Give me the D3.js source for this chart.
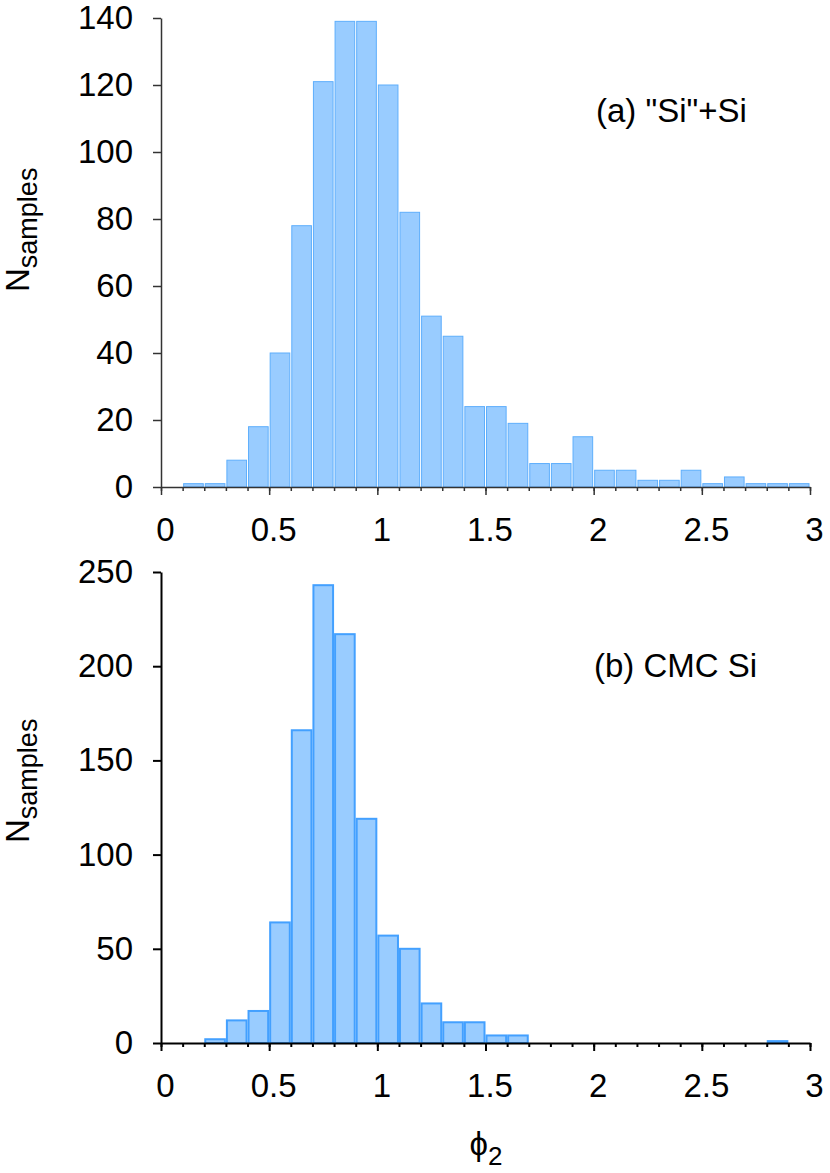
<!DOCTYPE html>
<html><head><meta charset="utf-8">
<script src="https://cdn.jsdelivr.net/npm/d3@7/dist/d3.min.js"></script>
<style>body{margin:0;background:#fff} svg{display:block}</style>
</head><body>
<script>
// ---- data ----
const binWidth = 0.1;
const binsA = [0.1,0.2,0.3,0.4,0.5,0.6,0.7,0.8,0.9,1.0,1.1,1.2,1.3,1.4,1.5,1.6,1.7,1.8,1.9,2.0,2.1,2.2,2.3,2.4,2.5,2.6,2.7,2.8,2.9];
const countsA = [1,1,8,18,40,78,121,139,139,120,82,51,45,24,24,19,7,7,15,5,5,2,2,5,1,3,1,1,1];
const binsB = [0.2,0.3,0.4,0.5,0.6,0.7,0.8,0.9,1.0,1.1,1.2,1.3,1.4,1.5,1.6,2.8];
const countsB = [2,12,17,64,166,243,217,119,57,50,21,11,11,4,4,1];
const yTicksA = [0,20,40,60,80,100,120,140];
const yTicksB = [0,50,100,150,200,250];
const xMajor = [0,0.5,1,1.5,2,2.5,3];
const xMinor = [0,0.1,0.2,0.3,0.4,0.5,0.6,0.7,0.8,0.9,1.0,1.1,1.2,1.3,1.4,1.5,1.6,1.7,1.8,1.9,2.0,2.1,2.2,2.3,2.4,2.5,2.6,2.7,2.8,2.9,3.0];
const labelA = '(a) "Si"+Si';
const labelB = '(b) CMC Si';
const yTitleMain = 'N', yTitleSub = 'samples';
const xTitleMain = '\u03D5', xTitleSub = '2';

// ---- layout ----
const W = 830, H = 1173;
const FONT = '"Liberation Sans", Arial, Helvetica, sans-serif';
const svg = d3.select('body').append('svg').attr('width', W).attr('height', H)
  .style('font-family', FONT);

const x = d3.scaleLinear().domain([0,3]).range([161,810]);

const panels = [
  {bins: binsA, counts: countsA, yTicks: yTicksA, y: d3.scaleLinear().domain([0,140]).range([487,18]),
   axisColor: '#333', axisW: 1.5, barStroke: '#5eaefc', barSW: 1, label: labelA, lx: 596, ly: 122, ytY: 292},
  {bins: binsB, counts: countsB, yTicks: yTicksB, y: d3.scaleLinear().domain([0,250]).range([1043,572]),
   axisColor: '#000', axisW: 2, barStroke: '#43a0ff', barSW: 2, label: labelB, lx: 594, ly: 677, ytY: 843}
];

panels.forEach(p => {
  const g = svg.append('g');
  // bars
  g.append('g').selectAll('rect').data(p.bins.map((b,i) => ({b, c: p.counts[i]})))
    .join('rect')
    .attr('x', d => x(d.b) + 1)
    .attr('width', d => x(d.b + binWidth) - x(d.b) - 2)
    .attr('y', d => p.y(d.c))
    .attr('height', d => p.y(0) - p.y(d.c))
    .attr('fill', '#99ccff')
    .attr('stroke', p.barStroke)
    .attr('stroke-width', p.barSW);

  // y axis
  const ya = g.append('g').attr('transform', `translate(${x(0)},0)`)
    .call(d3.axisLeft(p.y).tickValues(p.yTicks).tickSize(8).tickSizeOuter(0).tickPadding(20).tickFormat(d3.format('d')));
  ya.select('.domain').attr('stroke', p.axisColor).attr('stroke-width', p.axisW);
  ya.selectAll('.tick line').attr('stroke', p.axisColor).attr('stroke-width', p.axisW);
  ya.selectAll('.tick text').attr('font-size', 33).attr('font-family', FONT).attr('fill', '#000');

  // x axis minor ticks
  const xmin = g.append('g').attr('transform', `translate(0,${p.y(0)})`)
    .call(d3.axisBottom(x).tickValues(xMinor).tickSize(4).tickSizeOuter(0).tickFormat(''));
  xmin.select('.domain').attr('stroke', p.axisColor).attr('stroke-width', p.axisW);
  xmin.selectAll('.tick line').attr('stroke', p.axisColor).attr('stroke-width', p.axisW);
  // x axis major ticks + labels
  const xmaj = g.append('g').attr('transform', `translate(0,${p.y(0)})`)
    .call(d3.axisBottom(x).tickValues(xMajor).tickSize(8).tickSizeOuter(0).tickPadding(22.6).tickFormat(d3.format('~g')));
  xmaj.select('.domain').remove();
  xmaj.selectAll('.tick line').attr('stroke', p.axisColor).attr('stroke-width', p.axisW);
  xmaj.selectAll('.tick text').attr('font-size', 33).attr('font-family', FONT).attr('fill', '#000').attr('dx', 4);

  // panel label
  g.append('text').attr('x', p.lx).attr('y', p.ly).attr('font-size', 33).attr('fill', '#000').text(p.label);

  // y title
  const yt = g.append('text').attr('transform', `translate(29,${p.ytY}) rotate(-90)`)
    .attr('font-size', 33).attr('fill', '#000');
  yt.append('tspan').text(yTitleMain);
  yt.append('tspan').attr('font-size', 27).attr('dy', 8).text(yTitleSub);
});

// x title
const xt = svg.append('text').attr('x', 486).attr('y', 1155).attr('text-anchor', 'middle')
  .attr('font-size', 33).attr('fill', '#000');
xt.append('tspan').text(xTitleMain);
xt.append('tspan').attr('font-size', 26).attr('dy', 10).text(xTitleSub);
</script>
</body></html>
